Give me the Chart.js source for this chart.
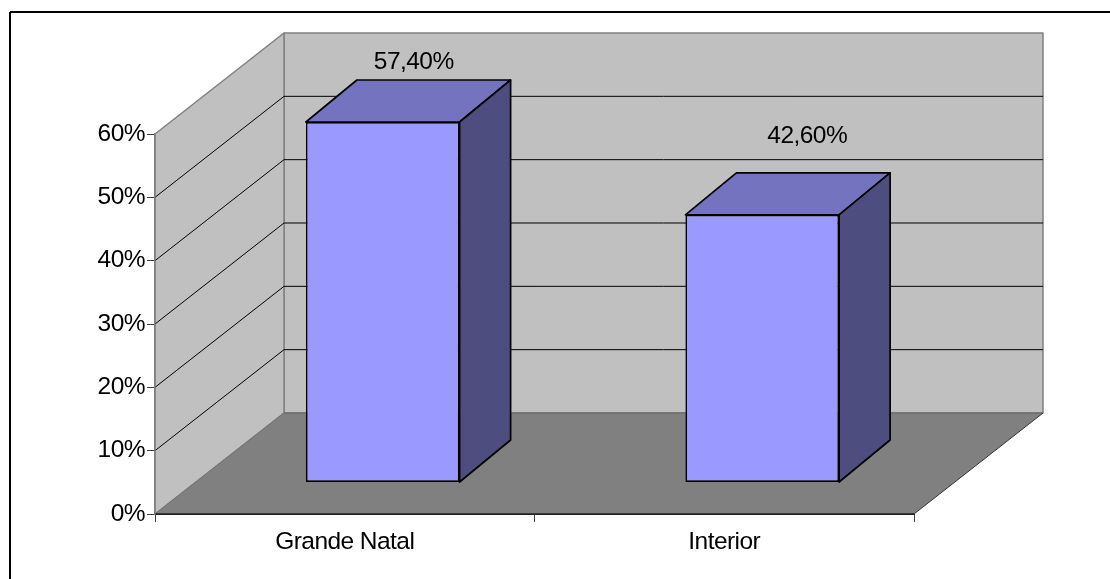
<!DOCTYPE html>
<html>
<head>
<meta charset="utf-8">
<style>
html, body { margin: 0; padding: 0; background: #fff; }
#wrap { position: absolute; left: 0; top: 0; width: 1110px; height: 579px; }
</style>
<script src="https://cdn.jsdelivr.net/npm/chart.js@4"></script>
</head>
<body>
<div id="wrap"><canvas id="chart"></canvas></div>
<script>
var categories = ['Grande Natal', 'Interior'];
var shares = [57.4, 42.6];
var shareLabels = ['57,40%', '42,60%'];
var axisTicks = [0, 10, 20, 30, 40, 50, 60];

// how far the back of the box and the back of a bar sit from their fronts
var boxDepth = { x: 129, y: -101 };
var barDepth = { x: 51, y: -42 };
// the bars stand part way into the floor
var barShift = 38;
var barLabelOffsets = [{ x: 31, y: -60 }, { x: 45, y: -79 }];

var fontFamily = '"Liberation Sans", Arial, sans-serif';
var fontSize = 24.5;

function polygon(ctx, points, fill, stroke, lineWidth) {
	ctx.beginPath();
	ctx.moveTo(points[0][0], points[0][1]);
	for (var i = 1; i < points.length; i++) {
		ctx.lineTo(points[i][0], points[i][1]);
	}
	ctx.closePath();
	if (fill) {
		ctx.fillStyle = fill;
		ctx.fill();
	}
	if (stroke) {
		ctx.strokeStyle = stroke;
		ctx.lineWidth = lineWidth;
		ctx.lineJoin = 'round';
		ctx.stroke();
	}
}

function line(ctx, x1, y1, x2, y2, color, width) {
	ctx.beginPath();
	ctx.moveTo(x1, y1);
	ctx.lineTo(x2, y2);
	ctx.strokeStyle = color;
	ctx.lineWidth = width;
	ctx.stroke();
}

// walls, floor and the outer frame
var boxPlugin = {
	id: 'box',
	beforeLayout: function (chart) {
		// tighter text, measured by the axes too
		chart.ctx.letterSpacing = '-0.55px';
	},
	afterLayout: function (chart) {
		var xBars = chart.scales.xBars;
		xBars.left += barShift;
		xBars.right += barShift;
		xBars.configure();
	},
	beforeDraw: function (chart) {
		var ctx = chart.ctx;
		var y = chart.scales.y;
		var x = chart.scales.x;
		var left = x.left, right = x.right;
		var bottom = y.getPixelForValue(0), top = y.getPixelForValue(60);
		var dx = boxDepth.x, dy = boxDepth.y;

		ctx.save();
		// frame only shows on the left and along the top
		line(ctx, 10, 12, 1110, 12, '#000000', 2);
		line(ctx, 10, 12, 10, 579, '#000000', 2);

		// back wall
		polygon(ctx, [[left + dx, top + dy], [right + dx, top + dy], [right + dx, bottom + dy], [left + dx, bottom + dy]], '#c0c0c0', '#808080', 1.5);
		// left wall
		polygon(ctx, [[left, top], [left + dx, top + dy], [left + dx, bottom + dy], [left, bottom]], '#c0c0c0', '#808080', 1.5);

		// gridlines run along the left wall and across the back
		axisTicks.forEach(function (value) {
			if (value == 0 || value == 60) {
				return;
			}
			var py = y.getPixelForValue(value);
			line(ctx, left, py, left + dx, py + dy, '#000000', 1);
			line(ctx, left + dx, py + dy, right + dx, py + dy, '#000000', 1);
		});

		// floor
		polygon(ctx, [[left, bottom], [left + dx, bottom + dy], [right + dx, bottom + dy], [right, bottom]], '#808080', null, 0);
		line(ctx, left + dx, bottom + dy, right + dx, bottom + dy, '#6e6e6e', 1.5);
		line(ctx, left, bottom, left + dx, bottom + dy, '#737373', 1);
		line(ctx, right, bottom, right + dx, bottom + dy, '#333333', 1);
		line(ctx, left, bottom, right, bottom, '#222222', 1.5);
		ctx.restore();
	},
	beforeDatasetsDraw: function (chart) {
		// top and side of each bar, the front comes from the dataset itself
		var ctx = chart.ctx;
		var bars = chart.getDatasetMeta(0).data;
		ctx.save();
		bars.forEach(function (bar) {
			var l = bar.x - bar.width / 2;
			var r = bar.x + bar.width / 2;
			var dx = barDepth.x, dy = barDepth.y;
			polygon(ctx, [[l, bar.y], [l + dx, bar.y + dy], [r + dx, bar.y + dy], [r, bar.y]], '#7373bf', '#000000', 1.7);
			polygon(ctx, [[r, bar.y], [r + dx, bar.y + dy], [r + dx, bar.base + dy], [r, bar.base]], '#4d4d80', '#000000', 1.7);
		});
		ctx.restore();
	},
	afterDatasetsDraw: function (chart) {
		var ctx = chart.ctx;
		var bars = chart.getDatasetMeta(0).data;
		ctx.save();
		ctx.font = fontSize + 'px ' + fontFamily;
		ctx.fillStyle = '#000000';
		ctx.textAlign = 'center';
		ctx.textBaseline = 'middle';
		bars.forEach(function (bar, i) {
			ctx.fillText(shareLabels[i], bar.x + barLabelOffsets[i].x, bar.y + barLabelOffsets[i].y);
		});
		ctx.restore();
	}
};

var barScale = 360 / 57.4;

var config = {
	'type': 'bar',
	'data': {
		'labels': categories,
		'datasets': [{
			'label': 'Share',
			'data': shares,
			'xAxisID': 'xBars',
			'yAxisID': 'yBars',
			'backgroundColor': '#9999ff',
			'borderColor': '#000000',
			'borderWidth': 1.7,
			'borderSkipped': false,
			'barPercentage': 0.405,
			'categoryPercentage': 1,
			'clip': false
		}]
	},
	'options': {
		'responsive': true,
		'maintainAspectRatio': false,
		'animation': false,
		'layout': { 'padding': { 'left': 0, 'top': 134, 'right': 196, 'bottom': 0 } },
		'plugins': {
			'legend': { 'display': false },
			'title': { 'display': false },
			'tooltip': { 'enabled': false }
		},
		'scales': {
			'x': {
				'type': 'category',
				'labels': categories,
				'offset': true,
				'afterFit': function (scale) { scale.height = 65; },
				'border': { 'color': '#222222', 'width': 1 },
				'grid': { 'offset': true, 'drawOnChartArea': false, 'tickLength': 8, 'tickColor': '#404040' },
				'ticks': { 'color': '#000000', 'padding': 6, 'maxRotation': 0, 'font': { 'family': fontFamily, 'size': fontSize } }
			},
			'y': {
				'type': 'linear',
				'min': 0,
				'max': 60,
				'afterBuildTicks': function (scale) {
					scale.ticks = axisTicks.map(function (v) { return { 'value': v }; });
				},
				'afterFit': function (scale) { scale.width = 155; },
				'border': { 'color': '#808080', 'width': 1.5 },
				'grid': { 'drawOnChartArea': false, 'tickLength': 8, 'tickColor': '#404040' },
				'ticks': {
					'color': '#000000',
					'padding': 2,
					'font': { 'family': fontFamily, 'size': fontSize },
					'callback': function (value) { return value + '%'; }
				}
			},
			// value axis of the plane the bar fronts stand on, kept hidden
			'xBars': { 'type': 'category', 'labels': categories, 'offset': true, 'display': false },
			'yBars': { 'type': 'linear', 'display': false, 'min': -32 / barScale, 'max': 348 / barScale }
		}
	},
	'plugins': [boxPlugin]
};

var chart = new Chart(document.getElementById('chart'), config);
</script>
</body>
</html>
